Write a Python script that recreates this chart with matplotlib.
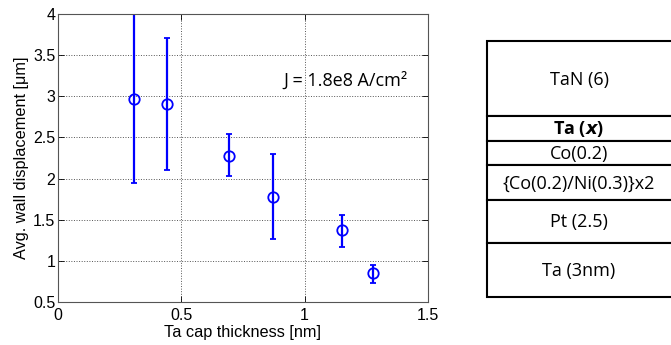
import matplotlib

matplotlib.use("Agg")
import matplotlib.pyplot as plt
from matplotlib.patches import Rectangle

# measured data
ta_thickness = [0.31, 0.44, 0.695, 0.87, 1.15, 1.278]
displacement = [2.97, 2.91, 2.28, 1.78, 1.37, 0.85]
err_low = [1.02, 0.81, 0.25, 0.51, 0.20, 0.115]
err_high = [1.03, 0.80, 0.26, 0.52, 0.19, 0.105]

x_ticks = [0, 0.5, 1, 1.5]
x_tick_labels = ["0", "0.5", "1", "1.5"]
y_ticks = [0.5, 1, 1.5, 2, 2.5, 3, 3.5, 4]
y_tick_labels = ["0.5", "1", "1.5", "2", "2.5", "3", "3.5", "4"]

# film stack, top to bottom
layer_labels = ["TaN (6)", "Ta ($\\boldsymbol{x}$)", "Co(0.2)", "{Co(0.2)/Ni(0.3)}x2", "Pt (2.5)", "Ta (3nm)"]
layer_bold = [False, True, False, False, False, False]
layer_heights = [75, 24.5, 24.5, 35, 43, 54]  # drawing heights in px

BLUE = "#0000ff"
AX_FONT = "Liberation Sans"
TXT_FONT = "Open Sans"

fig = plt.figure(figsize=(6.71, 3.45), dpi=100)
ax = fig.add_axes([58 / 671, 43 / 345, 370 / 671, 288 / 345])

ax.errorbar(
    ta_thickness,
    displacement,
    yerr=[err_low, err_high],
    fmt="o",
    color=BLUE,
    markerfacecolor="none",
    markeredgewidth=1.3,
    markersize=7.5,
    elinewidth=1.6,
    capsize=2.5,
    capthick=1.6,
)
ax.set_xlim(0, 1.5)
ax.set_ylim(0.5, 4)
ax.set_xticks(x_ticks)
ax.set_xticklabels(x_tick_labels, fontfamily=AX_FONT, fontsize=11.5)
ax.set_yticks(y_ticks)
ax.set_yticklabels(y_tick_labels, fontfamily=AX_FONT, fontsize=11.5)
ax.tick_params(direction="in", top=True, right=True, length=4, width=0.6, pad=2)
ax.tick_params(axis="x", pad=4)
ax.grid(True, linestyle=":", color="#555555", linewidth=0.7)
for spine in ax.spines.values():
    spine.set_color("#555555")
    spine.set_linewidth(0.8)
ax.set_xlabel("Ta cap thickness [nm]", fontfamily=AX_FONT, fontsize=11.7, labelpad=2)
ax.set_ylabel("Avg. wall displacement [\u03bcm]", fontfamily=AX_FONT, fontsize=11.7, labelpad=3)
ax.text(0.912, 3.19, "J = 1.8e8 A/cm\u00b2", fontfamily=TXT_FONT, fontsize=13, va="center", ha="left")

# film stack panel, in pixel coordinates
sx = fig.add_axes([0, 0, 1, 1])
sx.set_xlim(0, 671)
sx.set_ylim(345, 0)
sx.axis("off")
left, right, top = 486.5, 680, 41
y = top
for label, bold, h in zip(layer_labels, layer_bold, layer_heights):
    sx.add_patch(Rectangle((left, y), right - left, h, facecolor="white", edgecolor="black", linewidth=1.5))
    sx.text(
        579,
        y + h / 2 + 1,
        label,
        ha="center",
        va="center",
        fontfamily=TXT_FONT,
        fontsize=13,
        fontweight="bold" if bold else "normal",
    )
    y += h

fig.savefig("out.png", dpi=100)
